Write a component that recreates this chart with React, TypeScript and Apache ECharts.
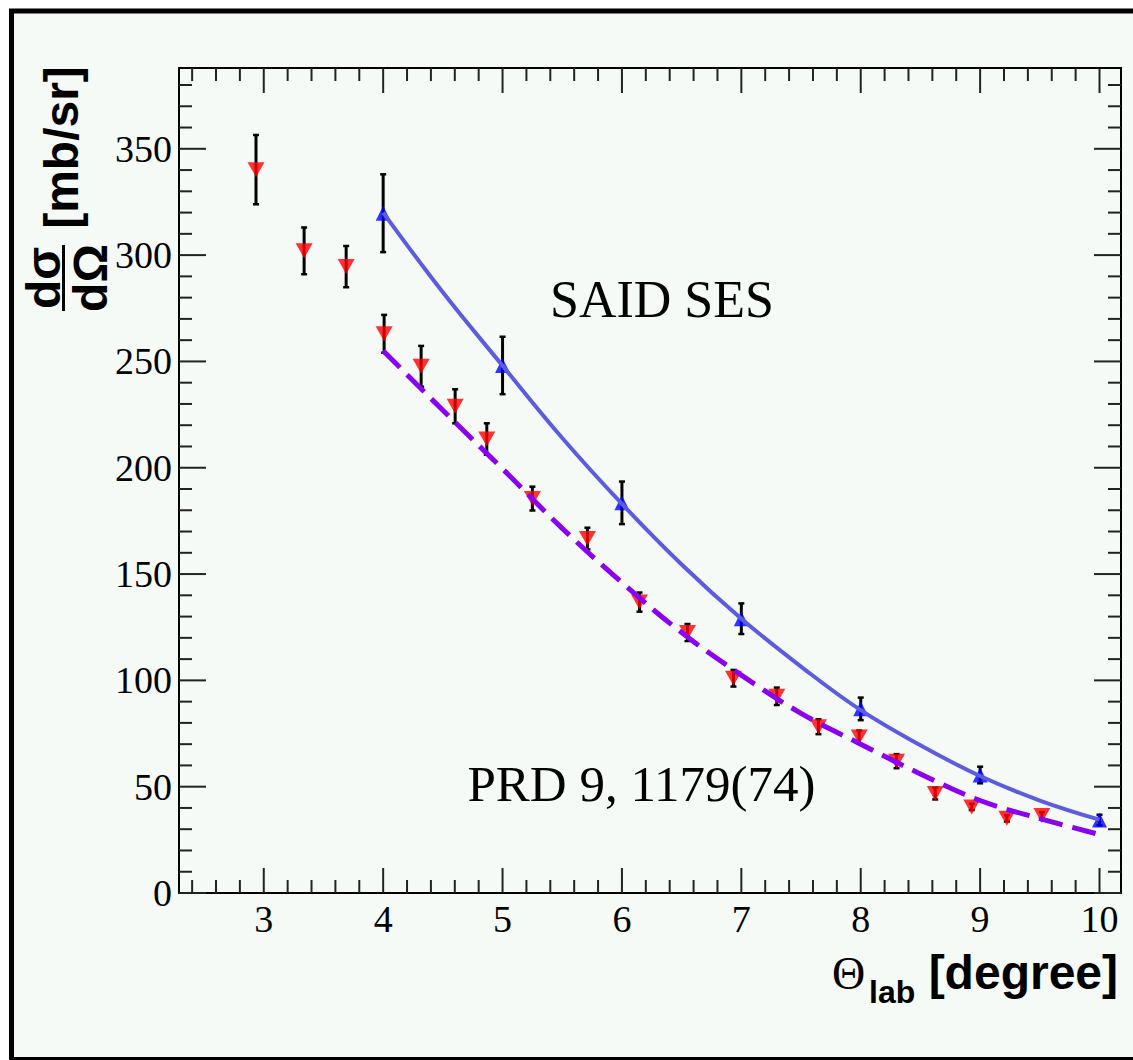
import React, { useEffect, useRef } from 'react';
import * as echarts from 'echarts';

// Axis ranges
const X_MIN = 2.29;
const X_MAX = 10.18;
const Y_MIN = 0;
const Y_MAX = 388;

// PRD 9, 1179(74) data (red inverted triangles)
const prdTheta = [2.935, 3.338, 3.69, 4.008, 4.318, 4.603, 4.868, 5.25, 5.711, 6.147, 6.549, 6.934, 7.297, 7.646, 7.987, 8.3, 8.624, 8.93, 9.224, 9.517];
const prdSigma = [340.2, 302, 294.6, 263.0, 247.7, 228.9, 213.5, 185.5, 166.7, 136.8, 122.5, 101, 92.5, 78.2, 73.4, 62, 46.8, 40.5, 35.1, 36.5];
const prdErr = [16.3, 11, 9.7, 8.9, 9.6, 8, 7.4, 5.6, 5.1, 4.5, 4, 3.9, 4.1, 3.5, 3, 3.3, 2.8, 1.5, 1.5, 1.5];

// Blue upright triangles
const saidTheta = [4, 5, 6, 7, 8, 9, 10];
const saidSigma = [319.7, 248.1, 183.5, 129, 86.6, 55.5, 34.3];
const saidErr = [18.3, 13.5, 10, 7.2, 5.3, 3.9, 2.5];

// SAID SES curve (solid)
const saidCurveTheta = [4, 4.5, 5, 5.5, 6, 6.5, 7, 7.5, 8, 8.5, 9, 9.5, 10];
const saidCurveSigma = [320, 282.5, 248, 214, 183, 154.5, 129, 106.5, 86, 69.5, 55, 43.5, 34.5];

// dashed curve
const prdCurveTheta = [4, 4.5, 5, 5.5, 6, 6.5, 7, 7.5, 8, 8.5, 9, 9.5, 10];
const prdCurveSigma = [255, 227, 199.5, 171.5, 146, 122.5, 102.5, 84.5, 70, 56, 43.5, 35, 27.5];

// Tick positions
const xMajorTicks = [3, 4, 5, 6, 7, 8, 9, 10];
const xMinorTicks: number[] = [];
for (let k = 12; k <= 50; k++) if (k % 5 !== 0) xMinorTicks.push(+(k * 0.2).toFixed(1));
const yMajorTicks = [0, 50, 100, 150, 200, 250, 300, 350];
const yMinorTicks: number[] = [];
for (let k = 1; k <= 38; k++) if (k % 5 !== 0) yMinorTicks.push(k * 10);

const SERIF = '"Liberation Serif", "Times New Roman", serif';
const SANS = '"Liberation Sans", Arial, sans-serif';

export default function App() {
  const ref = useRef<HTMLDivElement>(null);
  useEffect(() => {
    if (!ref.current) return;
    const chart = echarts.init(ref.current, null, { renderer: 'svg', width: 1133, height: 1060 });

    const tickData: number[][] = [
      ...xMajorTicks.map((v) => [0, v, 1]),
      ...xMinorTicks.map((v) => [0, v, 0]),
      ...yMajorTicks.map((v) => [1, v, 1]),
      ...yMinorTicks.map((v) => [1, v, 0]),
    ];

    const errRender = (params: any, api: any) => {
      const x = api.value(0);
      const y = api.value(1);
      const e = api.value(2);
      const top = api.coord([x, y + e]);
      const bot = api.coord([x, y - e]);
      const cw = 3;
      const st = { stroke: '#000', lineWidth: 3 };
      return {
        type: 'group',
        children: [
          { type: 'line', shape: { x1: top[0], y1: top[1], x2: bot[0], y2: bot[1] }, style: st },
          { type: 'line', shape: { x1: top[0] - cw, y1: top[1], x2: top[0] + cw, y2: top[1] }, style: { stroke: '#000', lineWidth: 2.5 } },
          { type: 'line', shape: { x1: bot[0] - cw, y1: bot[1], x2: bot[0] + cw, y2: bot[1] }, style: { stroke: '#000', lineWidth: 2.5 } },
        ],
      };
    };

    const option: any = {
      animation: false,
      backgroundColor: 'transparent',
      grid: { left: 179, top: 68, width: 942, height: 825, containLabel: false },
      xAxis: [
        {
          type: 'value', min: X_MIN, max: X_MAX, minInterval: 1, maxInterval: 1, position: 'bottom',
          axisLine: { show: true, onZero: false, lineStyle: { color: '#000', width: 2 } },
          axisTick: { show: false }, splitLine: { show: false },
          axisLabel: {
            show: true, margin: 7, color: '#000', fontFamily: SERIF, fontSize: 38,
            showMinLabel: false, showMaxLabel: false,
            formatter: (v: number) => (Math.abs(v - Math.round(v)) < 1e-6 ? String(Math.round(v)) : ''),
          },
        },
        {
          type: 'value', min: X_MIN, max: X_MAX, position: 'top',
          axisLine: { show: true, onZero: false, lineStyle: { color: '#000', width: 2 } },
          axisTick: { show: false }, axisLabel: { show: false }, splitLine: { show: false },
        },
      ],
      yAxis: [
        {
          type: 'value', min: Y_MIN, max: Y_MAX, interval: 50, position: 'left',
          axisLine: { show: true, onZero: false, lineStyle: { color: '#000', width: 2 } },
          axisTick: { show: false }, splitLine: { show: false },
          axisLabel: {
            show: true, margin: 7, color: '#000', fontFamily: SERIF, fontSize: 38,
            showMaxLabel: false, padding: [6, 0, 0, 0],
          },
        },
        {
          type: 'value', min: Y_MIN, max: Y_MAX, position: 'right',
          axisLine: { show: true, onZero: false, lineStyle: { color: '#000', width: 2 } },
          axisTick: { show: false }, axisLabel: { show: false }, splitLine: { show: false },
        },
      ],
      graphic: {
        elements: [
          {
            type: 'rect', z: -10, silent: true,
            shape: { x: 11.5, y: 11, width: 1200, height: 1048.5 },
            style: { fill: '#f6faf7', stroke: '#000', lineWidth: 5 },
          },
          {
            type: 'text', x: 61, y: 147.5, rotation: Math.PI / 2, z: 10,
            style: { text: '[mb/sr]', font: `bold 48px ${SANS}`, fill: '#000', align: 'center', verticalAlign: 'middle' },
          },
          {
            type: 'text', x: 43, y: 278, rotation: Math.PI / 2, z: 10,
            style: { text: 'dσ', font: `bold 48px ${SANS}`, fill: '#000', align: 'center', verticalAlign: 'middle' },
          },
          {
            type: 'text', x: 90, y: 278, rotation: Math.PI / 2, z: 10,
            style: { text: 'dΩ', font: `bold 48px ${SANS}`, fill: '#000', align: 'center', verticalAlign: 'middle' },
          },
          {
            type: 'line', z: 10, shape: { x1: 63.5, y1: 245, x2: 63.5, y2: 311 },
            style: { stroke: '#000', lineWidth: 3 },
          },
          {
            type: 'text', x: 832, y: 973, z: 10,
            style: { text: 'Θ', font: `46px ${SERIF}`, fill: '#000', align: 'left', verticalAlign: 'middle' },
          },
          {
            type: 'text', x: 869, y: 992, z: 10,
            style: { text: 'lab', font: `bold 32px ${SANS}`, fill: '#000', align: 'left', verticalAlign: 'middle' },
          },
          {
            type: 'text', x: 1118, y: 972, z: 10,
            style: { text: '[degree]', font: `bold 48px ${SANS}`, fill: '#000', align: 'right', verticalAlign: 'middle' },
          },
          {
            type: 'text', x: 662, y: 299, z: 10,
            style: { text: 'SAID SES', font: `52px ${SERIF}`, fill: '#000', align: 'center', verticalAlign: 'middle' },
          },
          {
            type: 'text', x: 641.5, y: 784, z: 10,
            style: { text: 'PRD 9, 1179(74)', font: `51px ${SERIF}`, fill: '#000', align: 'center', verticalAlign: 'middle' },
          },
        ],
      },
      series: [
        {
          name: 'ticks', type: 'custom', silent: true, z: 6,
          xAxisIndex: 0, yAxisIndex: 0,
          data: tickData,
          renderItem: (params: any, api: any) => {
            const cs = params.coordSys;
            const kind = api.value(0);
            const v = api.value(1);
            const major = api.value(2) === 1;
            const st = { stroke: '#222', lineWidth: 2 };
            if (kind === 0) {
              const px = api.coord([v, Y_MIN])[0];
              const L = major ? 25 : 13;
              const yb = cs.y + cs.height;
              const yt = cs.y;
              return {
                type: 'group',
                children: [
                  { type: 'line', shape: { x1: px, y1: yb, x2: px, y2: yb - L }, style: st },
                  { type: 'line', shape: { x1: px, y1: yt, x2: px, y2: yt + L }, style: st },
                ],
              };
            }
            const py = api.coord([X_MIN, v])[1];
            const L = major ? 27 : 13;
            const xl = cs.x;
            const xr = cs.x + cs.width;
            return {
              type: 'group',
              children: [
                { type: 'line', shape: { x1: xl, y1: py, x2: xl + L, y2: py }, style: st },
                { type: 'line', shape: { x1: xr, y1: py, x2: xr - L, y2: py }, style: st },
              ],
            };
          },
        },
        {
          name: 'prdErr', type: 'custom', silent: true, z: 2,
          data: prdTheta.map((x, i) => [x, prdSigma[i], prdErr[i]]),
          encode: { x: 0, y: 1 },
          renderItem: errRender,
        },
        {
          name: 'saidErr', type: 'custom', silent: true, z: 2,
          data: saidTheta.map((x, i) => [x, saidSigma[i], saidErr[i]]),
          encode: { x: 0, y: 1 },
          renderItem: errRender,
        },
        {
          name: 'PRD 9, 1179(74)', type: 'scatter', z: 3,
          symbol: 'triangle', symbolRotate: 180, symbolSize: [17, 15],
          itemStyle: { color: '#ff0000' },
          data: prdTheta.map((x, i) => [x, prdSigma[i]]),
        },
        {
          name: 'SAID data', type: 'scatter', z: 3,
          symbol: 'triangle', symbolSize: [15, 15],
          itemStyle: { color: '#0000ff' },
          data: saidTheta.map((x, i) => [x, saidSigma[i]]),
        },
        {
          name: 'SAID SES', type: 'line', z: 4, smooth: 0.4, showSymbol: false,
          lineStyle: { color: '#5c5ce0', width: 4 },
          data: saidCurveTheta.map((x, i) => [x, saidCurveSigma[i]]),
        },
        {
          name: 'fit', type: 'line', z: 4, smooth: 0.4, showSymbol: false,
          lineStyle: { color: '#8a00f0', width: 5, type: [24, 10] },
          data: prdCurveTheta.map((x, i) => [x, prdCurveSigma[i]]),
        },
      ],
    };

    chart.setOption(option);
    return () => chart.dispose();
  }, []);

  return (
    <div
      ref={ref}
      style={{ position: 'absolute', left: 0, top: 0, width: 1133, height: 1060, background: '#ffffff' }}
    />
  );
}
